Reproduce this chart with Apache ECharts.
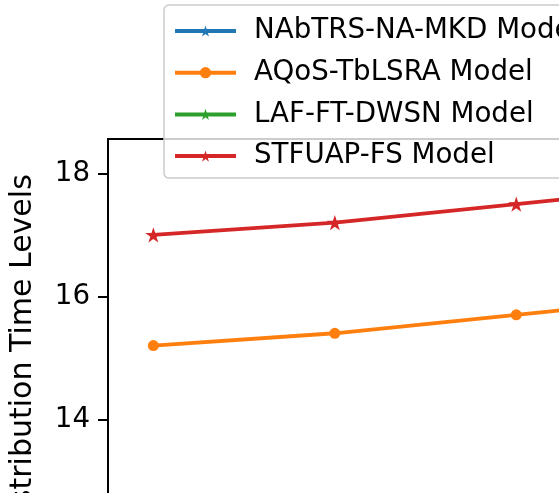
<!DOCTYPE html>
<html>
<head>
<meta charset="utf-8">
<script src="https://cdn.jsdelivr.net/npm/echarts@6/dist/echarts.min.js"></script>
<style>
html,body{margin:0;padding:0;overflow:hidden;background:#fff;width:559px;height:493px;}
#c{position:absolute;left:0;top:0;width:1200px;height:700px;}
</style>
</head>
<body>
<div id="c"></div>
<script>
const xValues = [1, 2, 3, 4, 5, 6];
const seriesNames = ['NAbTRS-NA-MKD Model', 'AQoS-TbLSRA Model', 'LAF-FT-DWSN Model', 'STFUAP-FS Model'];
const nabtrs = [12.5, 12.6, 12.6, 12.6, 12.7, 12.8];
const aqos = [15.2, 15.4, 15.7, 16.0, 16.2, 16.4];
const laf = [12.4, 12.5, 12.5, 12.6, 12.7, 12.8];
const stfuap = [17.0, 17.2, 17.5, 17.8, 18.0, 18.25];
const yTicks = [12, 14, 16, 18];
const yName = 'Distribution Time Levels';

const colors = ['#1f77b4', '#ff7f0e', '#2ca02c', '#d62728'];
const star = 'path://M100,0 L122.45,69.1 L195.1,69.1 L136.3,111.8 L158.8,180.9 L100,138.2 L41.2,180.9 L63.7,111.8 L4.9,69.1 L77.55,69.1 Z';
const symbols = [star, 'circle', star, star];
const sizes = [16, 11, 16, 16];
const values = [nabtrs, aqos, laf, stfuap];
const font = 'DejaVu Sans';

const chart = echarts.init(document.getElementById('c'), null, {renderer: 'canvas'});
chart.setOption({
  animation: false,
  textStyle: {fontFamily: font},
  grid: {left: 108, top: 139, width: 998, height: 432.8, show: true, borderColor: '#000', borderWidth: 2, backgroundColor: 'transparent'},
  legend: {
    orient: 'vertical', left: 164, top: 5,
    data: seriesNames,
    itemWidth: 61, itemHeight: 14, itemGap: 13.7,
    padding: [12, 20, 8, 9],
    backgroundColor: 'rgba(255,255,255,0.8)',
    borderColor: '#cccccc', borderWidth: 1.5, borderRadius: 5,
    lineStyle: {width: 4},
    textStyle: {fontFamily: font, fontSize: 27.7, color: '#000', lineHeight: 28, padding: [0, 0, 0, 13]}
  },
  xAxis: {
    type: 'value', min: 0.75, max: 6.25,
    axisLine: {show: false}, splitLine: {show: false},
    axisTick: {show: true, customValues: xValues, length: 10, lineStyle: {color: '#000', width: 2}},
    axisLabel: {customValues: xValues, fontSize: 27.7, color: '#000', fontFamily: font, margin: 18}
  },
  yAxis: {
    type: 'value', min: 11.52, max: 18.56,
    name: yName, nameLocation: 'middle', nameGap: 70,
    nameTextStyle: {fontFamily: font, fontSize: 30, color: '#000'},
    axisLine: {show: false}, splitLine: {show: false},
    axisTick: {show: true, customValues: yTicks, length: 10, lineStyle: {color: '#000', width: 2}},
    axisLabel: {customValues: yTicks, fontSize: 27.7, color: '#000', fontFamily: font, margin: 18}
  },
  series: seriesNames.map((n, i) => ({
    name: n, type: 'line',
    data: xValues.map((x, j) => [x, values[i][j]]),
    symbol: symbols[i], symbolSize: sizes[i], symbolKeepAspect: true,
    lineStyle: {color: colors[i], width: 3.8},
    itemStyle: {color: colors[i], borderWidth: 0},
    emphasis: {disabled: true}
  }))
});
</script>
</body>
</html>
